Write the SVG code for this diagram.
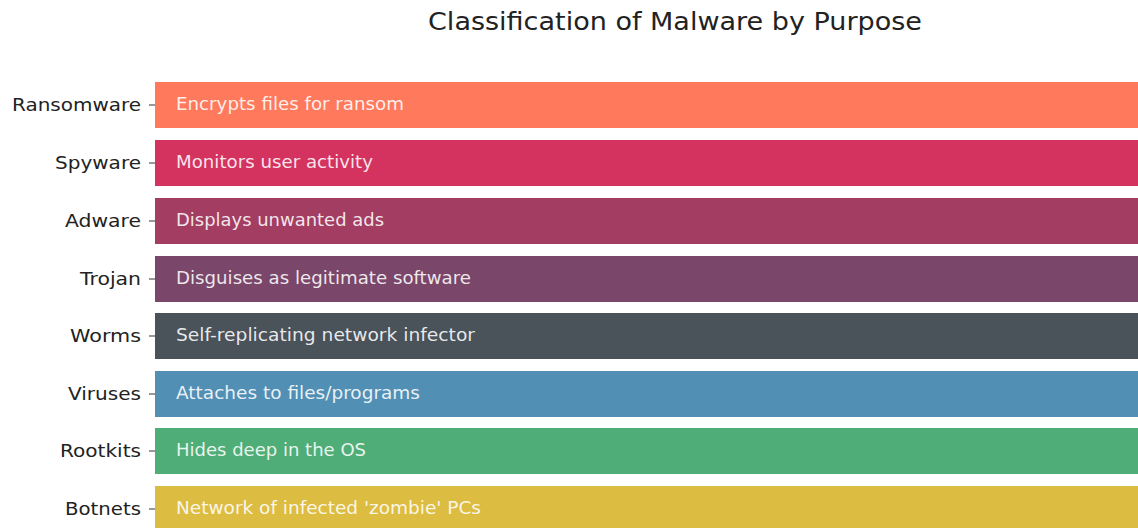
<svg xmlns="http://www.w3.org/2000/svg" width="1138" height="528" viewBox="0 0 1138 528">
  <style>
    .title { font-family: "DejaVu Sans", "Open Sans", sans-serif; font-size: 24px; fill: #222; }
    .cat { font-family: "DejaVu Sans", "Open Sans", sans-serif; font-size: 18px; fill: #222; text-anchor: end; }
    .desc { font-family: "DejaVu Sans", "Open Sans", sans-serif; font-size: 17px; fill: #ffffff; fill-opacity: 0.88; }
    .tick { stroke: #333; stroke-width: 1; }
  </style>
  <rect width="1138" height="528" fill="#ffffff"/>
  <text class="title" x="428" y="30" textLength="494" lengthAdjust="spacingAndGlyphs">Classification of Malware by Purpose</text>

  <!-- axis ticks -->
  <g id="ticks">
    <line class="tick" x1="149" y1="105" x2="155" y2="105"/>
    <line class="tick" x1="149" y1="163" x2="155" y2="163"/>
    <line class="tick" x1="149" y1="221" x2="155" y2="221"/>
    <line class="tick" x1="149" y1="279" x2="155" y2="279"/>
    <line class="tick" x1="149" y1="336" x2="155" y2="336"/>
    <line class="tick" x1="149" y1="394" x2="155" y2="394"/>
    <line class="tick" x1="149" y1="451" x2="155" y2="451"/>
    <line class="tick" x1="149" y1="509" x2="155" y2="509"/>
  </g>

  <g id="ransomware">
    <rect x="155" y="82" width="983" height="46" fill="#FF7A5C"/>
    <text class="cat" x="141" y="111" textLength="129" lengthAdjust="spacingAndGlyphs">Ransomware</text>
    <text class="desc" x="176" y="110" textLength="228" lengthAdjust="spacingAndGlyphs">Encrypts files for ransom</text>
  </g>
  <g id="spyware">
    <rect x="155" y="140" width="983" height="46" fill="#D4325F"/>
    <text class="cat" x="141" y="169" textLength="86" lengthAdjust="spacingAndGlyphs">Spyware</text>
    <text class="desc" x="176" y="168" textLength="197" lengthAdjust="spacingAndGlyphs">Monitors user activity</text>
  </g>
  <g id="adware">
    <rect x="155" y="198" width="983" height="46" fill="#A33D62"/>
    <text class="cat" x="141" y="227" textLength="76" lengthAdjust="spacingAndGlyphs">Adware</text>
    <text class="desc" x="176" y="226" textLength="208" lengthAdjust="spacingAndGlyphs">Displays unwanted ads</text>
  </g>
  <g id="trojan">
    <rect x="155" y="256" width="983" height="46" fill="#7A4669"/>
    <text class="cat" x="141" y="285" textLength="61" lengthAdjust="spacingAndGlyphs">Trojan</text>
    <text class="desc" x="176" y="284" textLength="295" lengthAdjust="spacingAndGlyphs">Disguises as legitimate software</text>
  </g>
  <g id="worms">
    <rect x="155" y="313" width="983" height="46" fill="#4A525A"/>
    <text class="cat" x="141" y="342" textLength="71" lengthAdjust="spacingAndGlyphs">Worms</text>
    <text class="desc" x="176" y="341" textLength="299" lengthAdjust="spacingAndGlyphs">Self-replicating network infector</text>
  </g>
  <g id="viruses">
    <rect x="155" y="371" width="983" height="46" fill="#528FB5"/>
    <text class="cat" x="141" y="400" textLength="73" lengthAdjust="spacingAndGlyphs">Viruses</text>
    <text class="desc" x="176" y="399" textLength="244" lengthAdjust="spacingAndGlyphs">Attaches to files/programs</text>
  </g>
  <g id="rootkits">
    <rect x="155" y="428" width="983" height="46" fill="#4FAE78"/>
    <text class="cat" x="141" y="457" textLength="81" lengthAdjust="spacingAndGlyphs">Rootkits</text>
    <text class="desc" x="176" y="456" textLength="190" lengthAdjust="spacingAndGlyphs">Hides deep in the OS</text>
  </g>
  <g id="botnets">
    <rect x="155" y="486" width="983" height="46" fill="#DDBC42"/>
    <text class="cat" x="141" y="515" textLength="76" lengthAdjust="spacingAndGlyphs">Botnets</text>
    <text class="desc" x="176" y="514" textLength="305" lengthAdjust="spacingAndGlyphs">Network of infected 'zombie' PCs</text>
  </g>
</svg>
